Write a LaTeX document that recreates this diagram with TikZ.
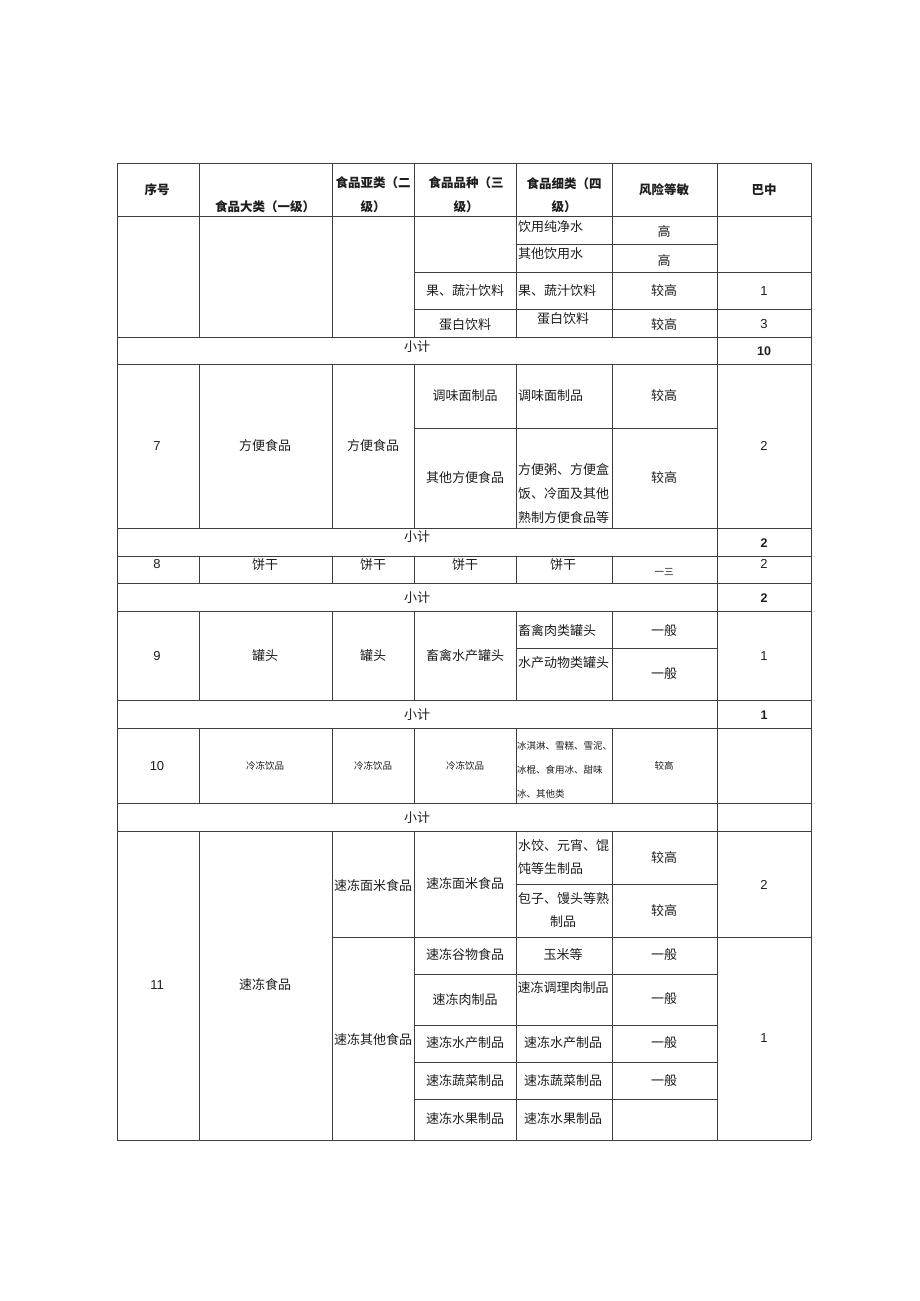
\documentclass[tikz,border=0pt]{standalone}
\usepackage{fontspec}
\setmainfont{Liberation Sans}
\newfontfamily\cjk{Noto Sans CJK SC}
\definecolor{gridc}{HTML}{3C403C}
\definecolor{txt}{HTML}{1E1E1E}
\tikzset{
  grid/.style={draw=gridc, line width=0.9pt},
  hd/.style={font=\cjk\bfseries\fontsize{12.5}{12.5}\selectfont, inner sep=0pt, text=txt},
  cc/.style={font=\cjk\fontsize{13}{13}\selectfont, inner sep=0pt, text=txt},
  cl/.style={cc, anchor=west},
  sm/.style={font=\cjk\fontsize{9.5}{9.5}\selectfont, inner sep=0pt, text=txt},
  sml/.style={sm, anchor=west},
  num/.style={font=\fontsize{13}{13}\selectfont, inner sep=0pt, text=txt},
  bnum/.style={font=\bfseries\fontsize{12.5}{12.5}\selectfont, inner sep=0pt, text=txt}
}
\begin{document}
\begin{tikzpicture}[x=1pt,y=-1pt]
\useasboundingbox (0,0) rectangle (920,1301);
\fill[white] (0,0) rectangle (920,1301);
% horizontal rules
\foreach \yy in {163,216,337,364,528,556,583,611,700,728,803,831,1140}
  \draw[grid] (117,\yy) -- (811,\yy);
\draw[grid] (414,272) -- (811,272);
\draw[grid] (414,309) -- (811,309);
\draw[grid] (516,244) -- (717,244);
\draw[grid] (414,428) -- (717,428);
\draw[grid] (516,648) -- (717,648);
\draw[grid] (516,884) -- (717,884);
\draw[grid] (332,937) -- (811,937);
\foreach \yy in {974,1025,1062,1099}
  \draw[grid] (414,\yy) -- (717,\yy);
% vertical rules
\foreach \xx in {117,717,811}
  \draw[grid] (\xx,163) -- (\xx,1140);
\foreach \xx in {199,332,414,516,612}{
  \draw[grid] (\xx,163) -- (\xx,337);
  \draw[grid] (\xx,364) -- (\xx,528);
  \draw[grid] (\xx,556) -- (\xx,583);
  \draw[grid] (\xx,611) -- (\xx,700);
  \draw[grid] (\xx,728) -- (\xx,803);
  \draw[grid] (\xx,831) -- (\xx,1140);
}
% header
\node[hd] (h1) at (157,190) {序号};
\node[hd] (h2) at (265,207) {食品大类（一级）};
\node[hd] (h3a) at (373,183) {食品亚类（二};
\node[hd] (h3b) at (373,207) {级）};
\node[hd] (h4a) at (466,183) {食品品种（三};
\node[hd] (h4b) at (466,207) {级）};
\node[hd] (h5a) at (564,184) {食品细类（四};
\node[hd] (h5b) at (564,207) {级）};
\node[hd] (h6) at (664,190) {风险等敏};
\node[hd] (h7) at (764,190) {巴中};
% block 1
\node[cl] (r1a) at (518,227) {饮用纯净水};
\node[cc] (r1b) at (664,232) {高};
\node[cl] (r1c) at (518,254) {其他饮用水};
\node[cc] (r1d) at (664,261) {高};
\node[cc] (r1e) at (465,291) {果、蔬汁饮料};
\node[cl] (r1f) at (518,291) {果、蔬汁饮料};
\node[cc] (r1g) at (664,291) {较高};
\node[num] (r1h) at (764,291) {1};
\node[cc] (r1i) at (465,325) {蛋白饮料};
\node[cc] (r1j) at (563,319) {蛋白饮料};
\node[cc] (r1k) at (664,325) {较高};
\node[num] (r1l) at (764,324) {3};
\node[cc] (s1) at (417,347) {小计};
\node[bnum] (s1n) at (764,351) {10};
% block 7
\node[num] (r7a) at (157,446) {7};
\node[cc] (r7b) at (265,446) {方便食品};
\node[cc] (r7c) at (373,446) {方便食品};
\node[cc] (r7d) at (465,396) {调味面制品};
\node[cl] (r7e) at (518,396) {调味面制品};
\node[cc] (r7f) at (664,396) {较高};
\node[cc] (r7g) at (465,478) {其他方便食品};
\node[cl] (r7h) at (518,470) {方便粥、方便盒};
\node[cl] (r7i) at (518,494) {饭、冷面及其他};
\node[cl] (r7j) at (518,518) {熟制方便食品等};
\node[cc] (r7k) at (664,478) {较高};
\node[num] (r7l) at (764,446) {2};
\node[cc] (s7) at (417,537) {小计};
\node[bnum] (s7n) at (764,543) {2};
% block 8
\node[num] (r8a) at (157,564) {8};
\node[cc] (r8b) at (265,565) {饼干};
\node[cc] (r8c) at (373,565) {饼干};
\node[cc] (r8d) at (465,565) {饼干};
\node[cc] (r8e) at (563,565) {饼干};
\node[sm] (r8f) at (664,572) {一三};
\node[num] (r8g) at (764,564) {2};
\node[cc] (s8) at (417,598) {小计};
\node[bnum] (s8n) at (764,598) {2};
% block 9
\node[num] (r9a) at (157,656) {9};
\node[cc] (r9b) at (265,656) {罐头};
\node[cc] (r9c) at (373,656) {罐头};
\node[cc] (r9d) at (465,656) {畜禽水产罐头};
\node[cl] (r9e) at (518,631) {畜禽肉类罐头};
\node[cc] (r9f) at (664,631) {一般};
\node[cl] (r9g) at (518,663) {水产动物类罐头};
\node[cc] (r9h) at (664,674) {一般};
\node[num] (r9i) at (764,656) {1};
\node[cc] (s9) at (417,715) {小计};
\node[bnum] (s9n) at (764,715) {1};
% block 10
\node[num] (r10a) at (157,766) {10};
\node[sm] (r10b) at (265,766) {冷冻饮品};
\node[sm] (r10c) at (373,766) {冷冻饮品};
\node[sm] (r10d) at (465,766) {冷冻饮品};
\node[sml] (r10e) at (517,746) {冰淇淋、雪糕、雪泥、};
\node[sml] (r10f) at (517,770) {冰棍、食用冰、甜味};
\node[sml] (r10g) at (517,794) {冰、其他类};
\node[sm] (r10h) at (664,766) {较高};
\node[cc] (s10) at (417,818) {小计};
% block 11
\node[num] (r11a) at (157,985) {11};
\node[cc] (r11b) at (265,985) {速冻食品};
\node[cc] (r11c) at (373,886) {速冻面米食品};
\node[cc] (r11d) at (373,1040) {速冻其他食品};
\node[cc] (r11e) at (465,884) {速冻面米食品};
\node[cl] (r11f) at (518,846) {水饺、元宵、馄};
\node[cl] (r11g) at (518,869) {饨等生制品};
\node[cc] (r11h) at (664,858) {较高};
\node[cl] (r11i) at (518,899) {包子、馒头等熟};
\node[cc] (r11j) at (563,922) {制品};
\node[cc] (r11k) at (664,911) {较高};
\node[num] (r11l) at (764,885) {2};
\node[cc] (r11m) at (465,955) {速冻谷物食品};
\node[cc] (r11n) at (563,955) {玉米等};
\node[cc] (r11o) at (664,955) {一般};
\node[cc] (r11p) at (465,1000) {速冻肉制品};
\node[cc] (r11q) at (563,988) {速冻调理肉制品};
\node[cc] (r11r) at (664,999) {一般};
\node[cc] (r11s) at (465,1043) {速冻水产制品};
\node[cc] (r11t) at (563,1043) {速冻水产制品};
\node[cc] (r11u) at (664,1043) {一般};
\node[cc] (r11v) at (465,1081) {速冻蔬菜制品};
\node[cc] (r11w) at (563,1081) {速冻蔬菜制品};
\node[cc] (r11x) at (664,1081) {一般};
\node[cc] (r11y) at (465,1119) {速冻水果制品};
\node[cc] (r11z) at (563,1119) {速冻水果制品};
\node[num] (r11n1) at (764,1038) {1};
\end{tikzpicture}
\end{document}
